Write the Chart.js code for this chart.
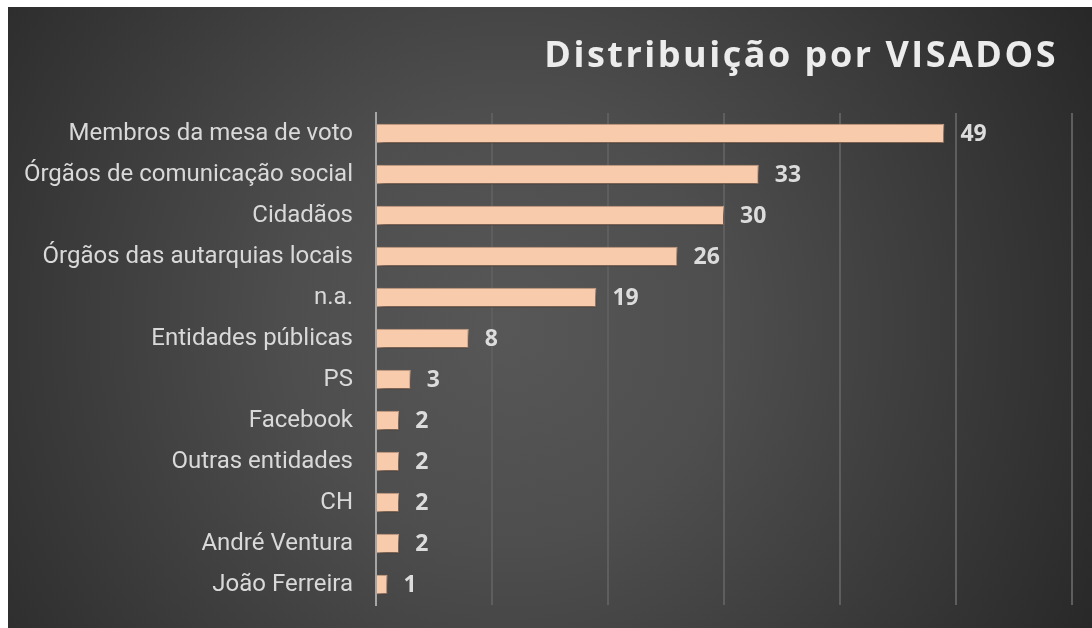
<!DOCTYPE html>
<html>
<head>
<meta charset="utf-8">
<script src="https://cdn.jsdelivr.net/npm/chart.js@4/dist/chart.umd.min.js"></script>
<style>
  html, body { margin: 0; padding: 0; background: #ffffff; }
  #wrap { position: absolute; left: 8px; top: 7px; width: 1084px; height: 621px; }
  canvas { display: block; }
</style>
</head>
<body>
<div id="wrap"><canvas id="c" width="1084" height="621"></canvas></div>
<script>
const titleText = "Distribuição por VISADOS";
const categories = [
  "Membros da mesa de voto",
  "Órgãos de comunicação social",
  "Cidadãos",
  "Órgãos das autarquias locais",
  "n.a.",
  "Entidades públicas",
  "PS",
  "Facebook",
  "Outras entidades",
  "CH",
  "André Ventura",
  "João Ferreira"
];
const values = [49, 33, 30, 26, 19, 8, 3, 2, 2, 2, 2, 1];
const axisMax = 60;
const axisStep = 10;

const bgPlugin = {
  id: 'bg',
  beforeDraw(chart) {
    const ctx = chart.ctx;
    const w = chart.width, h = chart.height;
    ctx.save();
    const g = ctx.createRadialGradient(500, 320, 0, 500, 320, 720);
    g.addColorStop(0, '#575757');
    g.addColorStop(0.3, '#4e4e4e');
    g.addColorStop(1, '#232323');
    ctx.fillStyle = g;
    ctx.fillRect(0, 0, w, h);
    ctx.restore();
  }
};

const titlePlugin = {
  id: 'customTitle',
  afterDraw(chart) {
    const ctx = chart.ctx;
    ctx.save();
    ctx.font = 'bold 36px "Open Sans"';
    ctx.letterSpacing = '2.5px';
    ctx.fillStyle = '#ececec';
    ctx.textAlign = 'right';
    ctx.textBaseline = 'middle';
    ctx.fillText(titleText, 1050, 50);
    ctx.restore();
  }
};

const shadowPlugin = {
  id: 'barShadow',
  beforeDatasetDraw(chart) {
    const ctx = chart.ctx;
    ctx.save();
    ctx.shadowColor = 'rgba(0,0,0,0.65)';
    ctx.shadowBlur = 7;
    ctx.shadowOffsetX = 3;
    ctx.shadowOffsetY = 4;
  },
  afterDatasetDraw(chart) {
    chart.ctx.restore();
  }
};

const valueLabels = {
  id: 'valueLabels',
  afterDatasetsDraw(chart) {
    const ctx = chart.ctx;
    const meta = chart.getDatasetMeta(0);
    ctx.save();
    ctx.font = 'bold 23px "Open Sans"';
    ctx.fillStyle = '#dcdcdc';
    ctx.textAlign = 'left';
    ctx.textBaseline = 'middle';
    meta.data.forEach((bar, i) => {
      ctx.fillText(String(values[i]), bar.x + 16, bar.y + 1);
    });
    ctx.restore();
  }
};

new Chart(document.getElementById('c'), {
  type: 'bar',
  data: {
    labels: categories,
    datasets: [{
      data: values,
      backgroundColor: '#f8cbad',
      borderColor: '#d9a98a',
      borderWidth: 1,
      categoryPercentage: 1,
      barPercentage: 0.48
    }]
  },
  options: {
    indexAxis: 'y',
    responsive: false,
    animation: false,
    layout: { padding: { top: 106, right: 20, bottom: 23, left: 0 } },
    plugins: {
      legend: { display: false },
      title: { display: false },
      tooltip: { enabled: false }
    },
    scales: {
      x: {
        min: 0,
        max: axisMax,
        afterFit(scale) { scale.height = 0; scale.paddingLeft = 0; scale.paddingRight = 0; },
        ticks: { display: false, stepSize: axisStep },
        grid: { color: '#5e5e5e', lineWidth: 2, drawTicks: false },
        border: { display: false }
      },
      y: {
        afterFit(scale) { scale.width = 368; scale.paddingTop = 0; scale.paddingBottom = 0; },
        ticks: {
          color: '#d9d9d9',
          font: { family: 'Roboto', size: 24 },
          padding: 23
        },
        grid: { display: false, drawTicks: false },
        border: { display: true, color: '#a6a6a6', width: 2 }
      }
    }
  },
  plugins: [bgPlugin, shadowPlugin, valueLabels, titlePlugin]
});
</script>
</body>
</html>
